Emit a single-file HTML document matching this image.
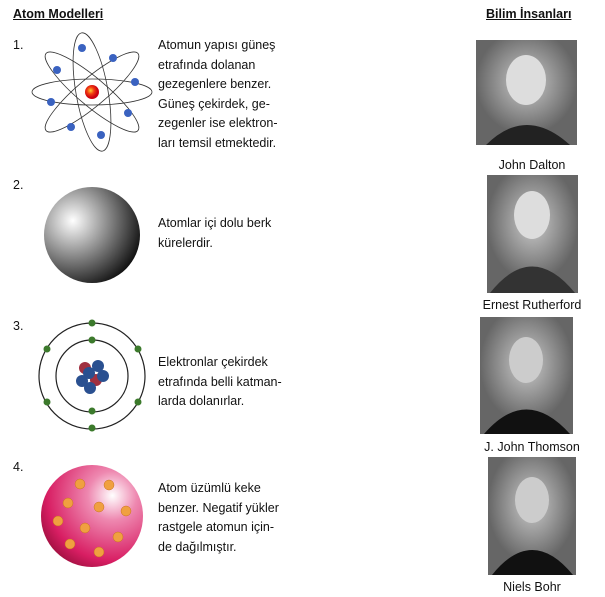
<!DOCTYPE html>
<html><head><meta charset="utf-8"><style>
body{margin:0;width:605px;height:597px;background:#fff;position:relative;font-family:"Liberation Sans",Arial,sans-serif;color:#111;overflow:hidden}
.t{position:absolute;font-size:12.5px;line-height:19.5px}
.b{font-weight:bold;text-decoration:underline}
.c{position:absolute;font-size:12.5px;text-align:center;width:140px}
</style></head><body>
<div class="t b" style="left:13px;top:5px">Atom Modelleri</div>
<div class="t b" style="left:486px;top:5px">Bilim İnsanları</div>
<div class="t" style="left:13px;top:36px">1.</div>
<div class="t" style="left:13px;top:176px">2.</div>
<div class="t" style="left:13px;top:317px">3.</div>
<div class="t" style="left:13px;top:458px">4.</div>
<div class="t" style="left:158px;top:36px">Atomun yapısı güneş<br>etrafında dolanan<br>gezegenlere benzer.<br>Güneş çekirdek, ge-<br>zegenler ise elektron-<br>ları temsil etmektedir.</div>
<div class="t" style="left:158px;top:214px">Atomlar içi dolu berk<br>kürelerdir.</div>
<div class="t" style="left:158px;top:353px">Elektronlar çekirdek<br>etrafında belli katman-<br>larda dolanırlar.</div>
<div class="t" style="left:158px;top:479px">Atom üzümlü keke<br>benzer. Negatif yükler<br>rastgele atomun için-<br>de dağılmıştır.</div>
<svg width="605" height="597" style="position:absolute;left:0;top:0">
<defs>
<radialGradient id="s" cx="0.3" cy="0.35" r="0.75"><stop offset="0" stop-color="#fff"/><stop offset="0.5" stop-color="#888"/><stop offset="1" stop-color="#111"/></radialGradient>
<radialGradient id="n" cx="0.4" cy="0.4"><stop offset="0" stop-color="#ffcc33"/><stop offset="0.5" stop-color="#f03c10"/><stop offset="1" stop-color="#c01"/></radialGradient>
<radialGradient id="p" cx="0.7" cy="0.3" r="0.8"><stop offset="0" stop-color="#fff"/><stop offset="0.3" stop-color="#ee88b0"/><stop offset="0.8" stop-color="#d81e63"/><stop offset="1" stop-color="#a01040"/></radialGradient>
<radialGradient id="ph" cx="0.5" cy="0.4"><stop offset="0" stop-color="#ccc"/><stop offset="1" stop-color="#666"/></radialGradient>
</defs>
<g fill="none" stroke="#333" stroke-width="0.8">
<ellipse cx="92" cy="92" rx="60" ry="13"/>
<ellipse cx="92" cy="92" rx="60" ry="14" transform="rotate(40 92 92)"/>
<ellipse cx="92" cy="92" rx="60" ry="14" transform="rotate(-40 92 92)"/>
<ellipse cx="92" cy="92" rx="60" ry="16" transform="rotate(80 92 92)"/>
</g>
<circle cx="92" cy="92" r="7" fill="url(#n)"/>
<g fill="#3a62c0">
<circle cx="82" cy="48" r="4"/><circle cx="113" cy="58" r="4"/><circle cx="57" cy="70" r="4"/><circle cx="135" cy="82" r="4"/><circle cx="51" cy="102" r="4"/><circle cx="128" cy="113" r="4"/><circle cx="71" cy="127" r="4"/><circle cx="101" cy="135" r="4"/>
</g>
<circle cx="92" cy="235" r="48" fill="url(#s)"/>
<g fill="none" stroke="#222" stroke-width="1.2"><circle cx="92" cy="376" r="36"/><circle cx="92" cy="376" r="53"/></g>
<g fill="#3c7a2c"><circle cx="92" cy="323" r="3.5"/><circle cx="92" cy="340" r="3.5"/><circle cx="92" cy="411" r="3.5"/><circle cx="92" cy="428" r="3.5"/><circle cx="47" cy="349" r="3.5"/><circle cx="138" cy="349" r="3.5"/><circle cx="47" cy="402" r="3.5"/><circle cx="138" cy="402" r="3.5"/></g>
<g><circle cx="85" cy="368" r="6" fill="#a03040"/><circle cx="98" cy="366" r="6" fill="#2a5090"/><circle cx="82" cy="381" r="6" fill="#2a5090"/><circle cx="96" cy="380" r="6" fill="#a03040"/><circle cx="90" cy="388" r="6" fill="#2a5090"/><circle cx="103" cy="376" r="6" fill="#2a5090"/><circle cx="89" cy="373" r="6" fill="#2a5090"/></g>
<circle cx="92" cy="516" r="51" fill="url(#p)"/>
<g fill="#f0a040" stroke="#c87020" stroke-width="0.5">
<circle cx="80" cy="484" r="5"/><circle cx="109" cy="485" r="5"/><circle cx="68" cy="503" r="5"/><circle cx="99" cy="507" r="5"/><circle cx="126" cy="511" r="5"/><circle cx="58" cy="521" r="5"/><circle cx="85" cy="528" r="5"/><circle cx="118" cy="537" r="5"/><circle cx="70" cy="544" r="5"/><circle cx="99" cy="552" r="5"/>
</g>
<g>
<rect x="476" y="40" width="101" height="105" fill="url(#ph)"/><ellipse cx="526" cy="80" rx="20" ry="25" fill="#ddd"/><path d="M486 145 Q526 105 570 145Z" fill="#222"/>
<rect x="487" y="175" width="91" height="118" fill="url(#ph)"/><ellipse cx="532" cy="215" rx="18" ry="24" fill="#ddd"/><path d="M490 293 Q532 240 575 293Z" fill="#333"/>
<rect x="480" y="317" width="93" height="117" fill="url(#ph)"/><ellipse cx="526" cy="360" rx="17" ry="23" fill="#ccc"/><path d="M484 434 Q526 385 570 434Z" fill="#111"/>
<rect x="488" y="457" width="88" height="118" fill="url(#ph)"/><ellipse cx="532" cy="500" rx="17" ry="23" fill="#ccc"/><path d="M492 575 Q532 525 573 575Z" fill="#111"/>
</g>
</svg>
<div class="c" style="left:462px;top:158px">John Dalton</div>
<div class="c" style="left:462px;top:298px">Ernest Rutherford</div>
<div class="c" style="left:462px;top:440px">J. John Thomson</div>
<div class="c" style="left:462px;top:580px">Niels Bohr</div>
</body></html>
